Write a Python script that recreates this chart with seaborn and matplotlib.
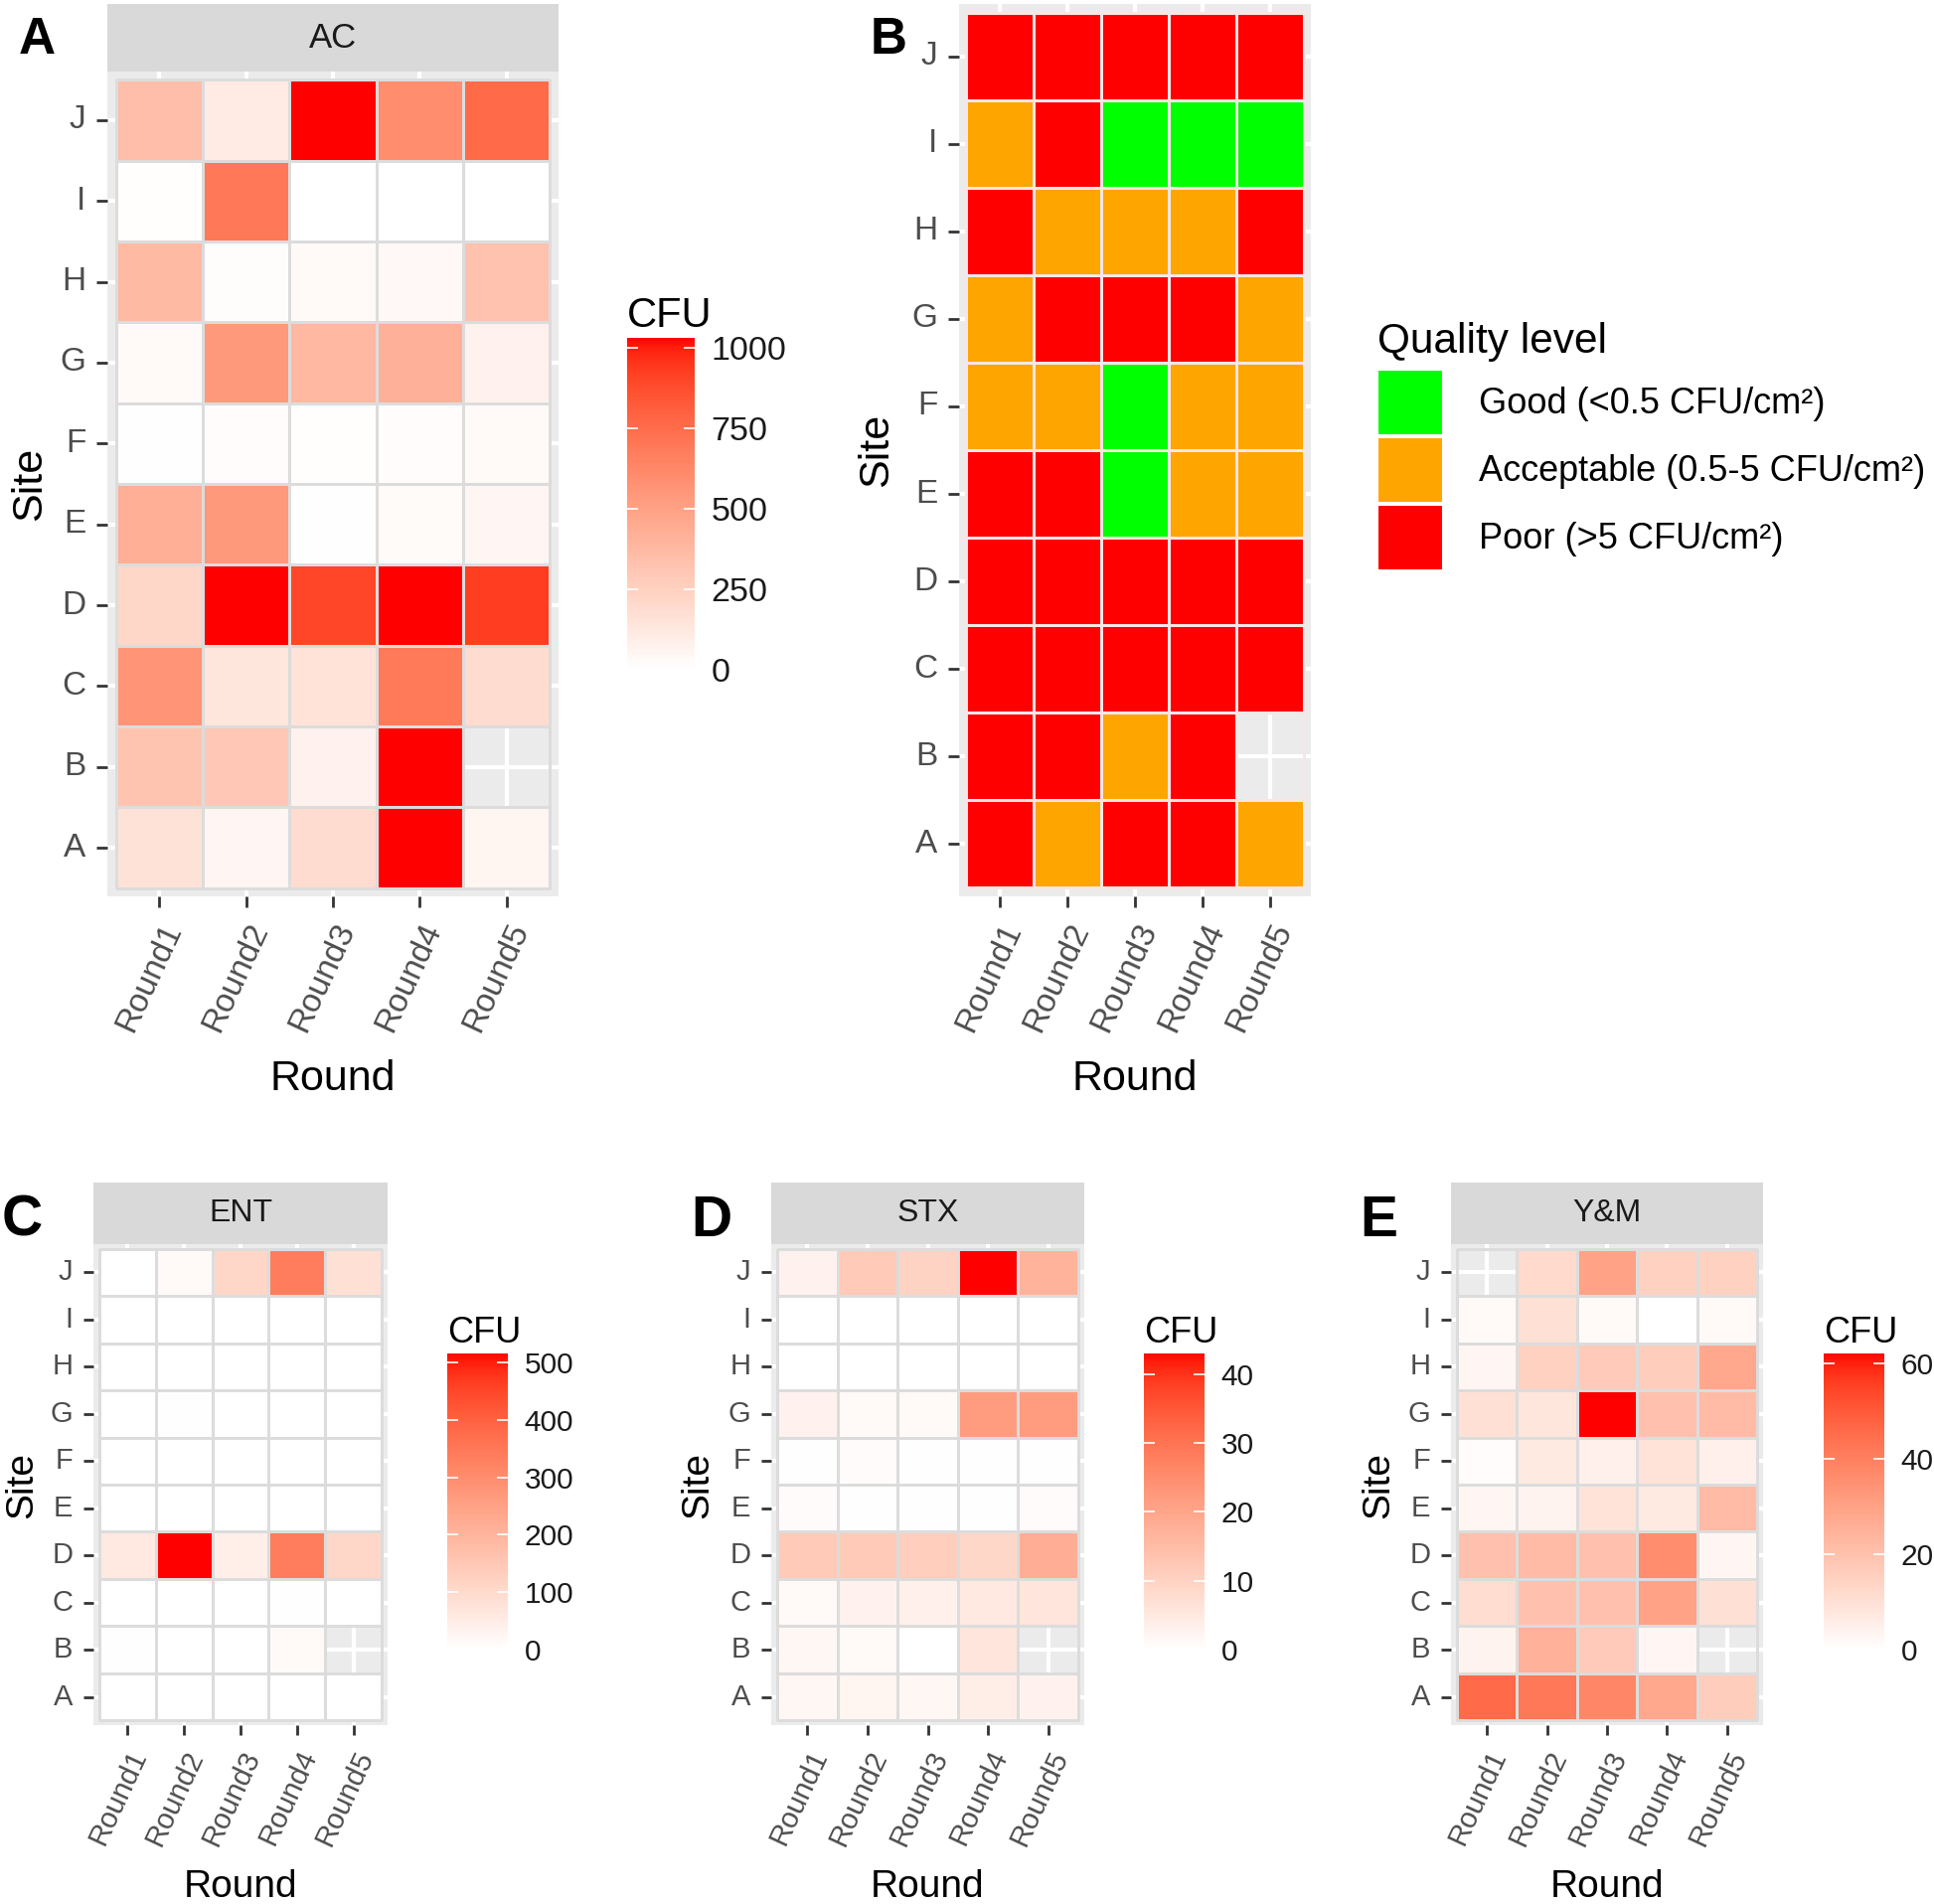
#colony counts per site and sampling round, plus quality level classification
import numpy as np
import pandas as pd
import seaborn as sns
import matplotlib
matplotlib.use("Agg")
import matplotlib.pyplot as plt
from matplotlib.colors import ListedColormap
from matplotlib.patches import Patch

plt.rcParams['font.family'] = ['Liberation Sans', 'DejaVu Sans']

nan = np.nan
rounds = ["Round1", "Round2", "Round3", "Round4", "Round5"]
sites = ["A", "B", "C", "D", "E", "F", "G", "H", "I", "J"]

#rows follow sites A..J, columns Round1..Round5
ac_cfu = [[160, 55, 190, 1031, 60],
          [320, 300, 70, 1031, nan],
          [560, 140, 150, 690, 190],
          [220, 1031, 900, 1031, 930],
          [430, 540, 5, 25, 50],
          [5, 20, 10, 20, 30],
          [30, 540, 380, 420, 70],
          [370, 15, 30, 40, 330],
          [10, 700, 2, 0, 0],
          [350, 110, 1031, 600, 760]]

ent_cfu = [[2, 1, 1, 1, 1],
           [3, 1, 1, 15, nan],
           [1, 1, 1, 3, 1],
           [60, 516, 45, 340, 110],
           [1, 1, 1, 1, 1],
           [1, 1, 1, 1, 1],
           [1, 3, 1, 1, 1],
           [0, 0, 0, 0, 0],
           [0, 0, 0, 0, 0],
           [2, 15, 110, 340, 85]]

stx_cfu = [[2, 2.5, 2, 4, 3],
           [2, 1.5, 0, 6, nan],
           [1.5, 3, 3.5, 5, 6],
           [12, 12, 11, 9, 18],
           [1, 0.3, 0.2, 0.2, 1],
           [0.3, 1, 0.2, 0.2, 0.3],
           [3, 1.5, 1.5, 22, 22],
           [0, 0, 0, 0, 0],
           [0, 0, 0, 0, 0],
           [3, 12, 10, 43, 17]]

ym_cfu = [[46, 42, 38, 28, 16],
          [4, 25, 17, 3, nan],
          [11, 20, 20, 30, 10],
          [20, 22, 20, 36, 3],
          [3, 4, 9, 7, 22],
          [1, 7, 5, 9, 5],
          [10, 8, 62, 20, 22],
          [3, 15, 17, 16, 28],
          [2, 10, 2, 0, 2],
          [nan, 12, 30, 15, 15]]

quality = [["Poor", "Acceptable", "Poor", "Poor", "Acceptable"],
           ["Poor", "Poor", "Acceptable", "Poor", None],
           ["Poor", "Poor", "Poor", "Poor", "Poor"],
           ["Poor", "Poor", "Poor", "Poor", "Poor"],
           ["Poor", "Poor", "Good", "Acceptable", "Acceptable"],
           ["Acceptable", "Acceptable", "Good", "Acceptable", "Acceptable"],
           ["Acceptable", "Poor", "Poor", "Poor", "Acceptable"],
           ["Poor", "Acceptable", "Acceptable", "Acceptable", "Poor"],
           ["Acceptable", "Poor", "Good", "Good", "Good"],
           ["Poor", "Poor", "Poor", "Poor", "Poor"]]
quality_levels = ["Good", "Acceptable", "Poor"]
quality_labels = ["Good (<0.5 CFU/cm\u00b2)", "Acceptable (0.5-5 CFU/cm\u00b2)", "Poor (>5 CFU/cm\u00b2)"]
quality_colors = ["#00FF00", "#FFA500", "#FF0000"]


#white -> red gradient interpolated in Lab space like ggplot's scale_fill_gradient
def to_lab(rgb):
	c = np.asarray(rgb, dtype=float)
	lin = np.where(c <= 0.04045, c/12.92, ((c+0.055)/1.055)**2.4)
	M = np.array([[0.4124564, 0.3575761, 0.1804375], [0.2126729, 0.7151522, 0.0721750], [0.0193339, 0.1191920, 0.9503041]])
	xyz = M @ lin / np.array([0.95047, 1.0, 1.08883])
	f = np.where(xyz > 0.008856, np.cbrt(xyz), 7.787*xyz + 16/116)
	return np.array([116*f[1]-16, 500*(f[0]-f[1]), 200*(f[1]-f[2])])

def from_lab(lab):
	L, a, b = lab
	fy = (L+16)/116
	f = np.array([fy + a/500, fy, fy - b/200])
	xyz = np.where(f**3 > 0.008856, f**3, (f-16/116)/7.787) * np.array([0.95047, 1.0, 1.08883])
	Minv = np.array([[3.2404542, -1.5371385, -0.4985314], [-0.9692660, 1.8760108, 0.0415560], [0.0556434, -0.2040259, 1.0572252]])
	lin = np.clip(Minv @ xyz, 0, 1)
	return np.clip(np.where(lin <= 0.0031308, 12.92*lin, 1.055*lin**(1/2.4) - 0.055), 0, 1)

lab0, lab1 = to_lab((1, 1, 1)), to_lab((1, 0, 0))
white_red = ListedColormap([from_lab(lab0 + t*(lab1-lab0)) for t in np.linspace(0, 1, 256)])

W, H = 1946, 1916
fig = plt.figure(figsize=(W/100, H/100), dpi=100)

def box(x0, y0, x1, y1):
	return [x0/W, 1-y1/H, (x1-x0)/W, (y1-y0)/H]

def panel_style(ax, tick_size, title_size, ylab_x, xlab_y, tick_len):
	ax.set_facecolor("#EBEBEB")
	ax.grid(True, color="white", lw=3)
	ax.set_axisbelow(True)
	ax.set_xlim(-0.1, 5.1)
	ax.set_ylim(10.1, -0.1)
	ax.tick_params(length=tick_len, width=2, color="#333333", labelsize=tick_size, labelcolor="#4D4D4D", pad=8)
	ax.set_yticklabels(sites[::-1], rotation=0)
	ax.set_xticklabels(rounds, rotation=65, ha="right", va="top", rotation_mode="anchor")
	ax.set_xlabel("Round", fontsize=title_size)
	ax.set_ylabel("Site", fontsize=title_size)
	ax.yaxis.set_label_coords(ylab_x, 0.5)
	ax.xaxis.set_label_coords(0.5, xlab_y)

def cfu_panel(values, name, strip_box, panel_box, cbar_box, ticks, sz):
	df = pd.DataFrame(values, index=sites, columns=rounds).iloc[::-1]
	sax = fig.add_axes(box(*strip_box))
	sax.set_facecolor("#D9D9D9")
	sax.set_xticks([]); sax.set_yticks([])
	for s in sax.spines.values():
		s.set_visible(False)
	sax.text(0.5, 0.5, name, transform=sax.transAxes, ha="center", va="center", fontsize=sz["strip"], color="#1A1A1A")
	ax = fig.add_axes(box(*panel_box))
	cax = fig.add_axes(box(*cbar_box))
	sns.heatmap(df, ax=ax, cmap=white_red, vmin=0, vmax=np.nanmax(df.values), linewidths=1.0, linecolor="#DCDCDC",
		cbar_ax=cax, cbar_kws={"ticks": ticks})
	panel_style(ax, sz["tick"], sz["title"], sz["ylab"], sz["xlab"], sz["ticklen"])
	cb = ax.collections[0].colorbar
	cb.outline.set_visible(False)
	cax.tick_params(direction="in", left=True, right=True, color="white", length=8, width=1.2,
		labelsize=sz["cbar"], labelcolor="#1A1A1A", pad=12)
	cax.set_title("CFU", loc="left", fontsize=sz["cfu"], pad=8)
	return ax

big = {"strip": 25, "tick": 24, "title": 31, "cbar": 24.5, "cfu": 30, "ylab": -0.128, "xlab": -0.198, "ticklen": 7.7}
cfu_panel(ac_cfu, "AC", (108, 4, 562, 72), (108, 72, 562, 902), (631, 340, 699, 674), [0, 250, 500, 750, 1000], big)

#panel B: quality level
code = {lvl: i for i, lvl in enumerate(quality_levels)}
qdf = pd.DataFrame([[code[q] if q is not None else nan for q in row] for row in quality], index=sites, columns=rounds).iloc[::-1]
axb = fig.add_axes(box(965, 4, 1319, 902))
sns.heatmap(qdf, ax=axb, cmap=ListedColormap(quality_colors), vmin=-0.5, vmax=2.5, cbar=False, linewidths=1.0, linecolor="#F6E6E6")
panel_style(axb, 24, 31, -0.178, -0.183, 7.7)
handles = [Patch(facecolor=c, edgecolor="white", linewidth=1.5, label=l) for c, l in zip(quality_colors, quality_labels)]
fig.legend(handles=handles, title="Quality level", loc="upper left", bbox_to_anchor=(1386/W, 1-324/H), frameon=False,
	fontsize=26, title_fontsize=30.5, handlelength=1.83, handleheight=2.4, handletextpad=1.0, labelspacing=0.08,
	borderpad=0, borderaxespad=0, alignment="left")
fig.legends[0]._legend_box.sep = 6

small = {"strip": 23, "tick": 21, "title": 28, "cbar": 21.5, "cfu": 26, "ylab": -0.181, "xlab": -0.30, "ticklen": 7}
cfu_panel(ent_cfu, "ENT", (94, 1190, 390, 1252), (94, 1252, 390, 1736), (450, 1362, 511, 1660), [0, 100, 200, 300, 400, 500], small)
small["ylab"] = -0.176
cfu_panel(stx_cfu, "STX", (776, 1190, 1091, 1252), (776, 1252, 1091, 1736), (1151, 1362, 1212, 1660), [0, 10, 20, 30, 40], small)
small["ylab"] = -0.174
cfu_panel(ym_cfu, "Y&M", (1460, 1190, 1774, 1252), (1460, 1252, 1774, 1736), (1835, 1362, 1896, 1660), [0, 20, 40, 60], small)

for letter, x, y, fs in [("A", 37, 40, 37), ("B", 894, 40, 37), ("C", 22, 1229, 41), ("D", 716, 1229, 41), ("E", 1387, 1229, 41)]:
	fig.text(x/W, 1-y/H, letter, fontsize=fs, fontweight="bold", ha="center", va="center")

plt.savefig("out.png", dpi=100)
